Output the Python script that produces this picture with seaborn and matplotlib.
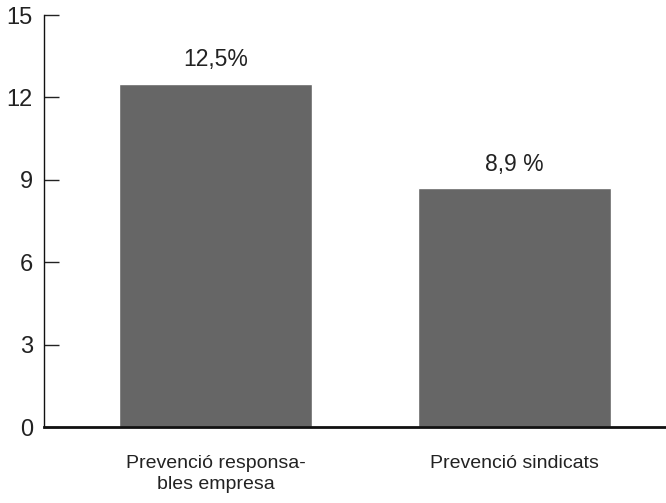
import matplotlib
matplotlib.use('Agg')
import matplotlib.pyplot as plt
import seaborn as sns
import pandas as pd

categories = ['Prevenció responsa-\nbles empresa', 'Prevenció sindicats']
values = [12.5, 8.7]
value_labels = ['12,5%', '8,9 %']
yticks = [0, 3, 6, 9, 12, 15]

sns.set_style('white')
plt.rcParams['font.family'] = ['Liberation Sans', 'DejaVu Sans']

df = pd.DataFrame({'cat': categories, 'val': values})

fig = plt.figure(figsize=(6.66, 5.03), dpi=100)
ax = fig.add_axes([0.066, 0.151, 0.934, 0.819])
sns.barplot(data=df, x='cat', y='val', color='#666666', saturation=1,
            width=0.645, ax=ax)

for i, (v, lab) in enumerate(zip(values, value_labels)):
    ax.annotate(lab, (i, v), xytext=(0, 9), textcoords='offset points',
                ha='center', va='bottom', fontsize=16.5, color='#222222')

ax.set_xlim(-0.574, 1.507)
ax.set_ylim(0, 15)
ax.set_yticks(yticks)
ax.set_xlabel(None)
ax.set_ylabel(None)
ax.tick_params(axis='y', direction='in', length=11, width=1, color='#222222',
               labelsize=17, labelcolor='#222222', pad=8, left=True)
ax.tick_params(axis='x', length=0, labelsize=14, labelcolor='#222222', pad=20)
for lbl in ax.get_xticklabels():
    lbl.set_multialignment('center')
    lbl.set_linespacing(1.3)
sns.despine(ax=ax)
ax.spines['left'].set_linewidth(1)
ax.spines['left'].set_color('#111111')
ax.spines['bottom'].set_linewidth(2)
ax.spines['bottom'].set_color('#111111')

plt.savefig('out.png', dpi=100)
